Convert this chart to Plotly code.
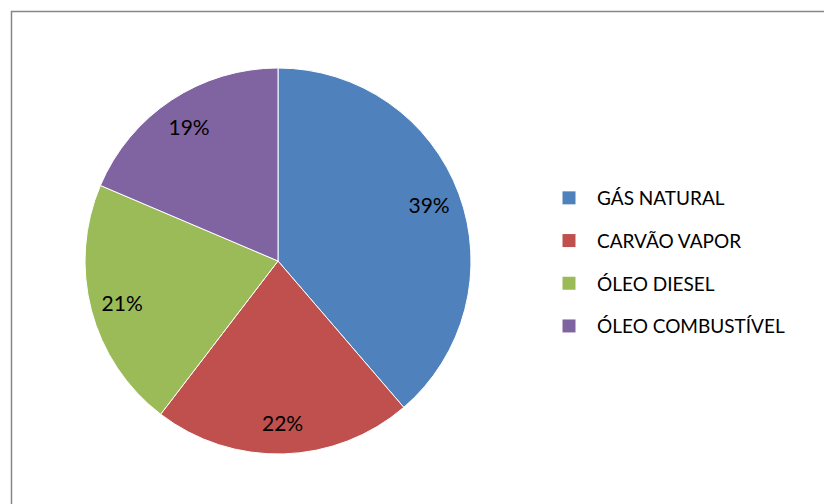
import plotly.graph_objects as go

# participação por combustível (%)
fontes = ['GÁS NATURAL', 'CARVÃO VAPOR', 'ÓLEO DIESEL', 'ÓLEO COMBUSTÍVEL']
valores = [38.7, 21.7, 21.0, 18.6]
cores = ['#4F81BD', '#C0504D', '#9BBB59', '#8064A2']

W, H = 832, 504
OFF = 8  # margem padrão do <body> na página gerada
fonte = 'Lato'

dominio = dict(x=[(85 - OFF) / W, (471 - OFF) / W],
               y=[1 - (454 - OFF) / H, 1 - (68 - OFF) / H])

fig = go.Figure()
# pizza cheia
fig.add_trace(go.Pie(
    labels=fontes, values=valores, sort=False, direction='clockwise', rotation=0,
    marker=dict(colors=cores, line=dict(color='white', width=1)),
    textinfo='none', domain=dominio, showlegend=False, hoverinfo='label+percent',
))
# anel transparente só para colocar os rótulos perto da borda
fig.add_trace(go.Pie(
    labels=fontes, values=valores, sort=False, direction='clockwise', rotation=0,
    hole=0.67,
    marker=dict(colors=['rgba(0,0,0,0)'] * len(fontes), line=dict(width=0)),
    texttemplate='%{percent:.0%}', textposition='inside',
    insidetextorientation='horizontal',
    textfont=dict(family=fonte, size=21, color='black'),
    domain=dominio, showlegend=False, hoverinfo='skip',
))

# legenda com espaçamento maior, uma entrada por fonte
for nome, cor in zip(fontes, cores):
    fig.add_trace(go.Scatter(
        x=[None], y=[None], mode='markers', name=nome, legendgroup=nome,
        marker=dict(symbol='square', size=13, color=cor),
    ))

fig.update_layout(
    width=W, height=H,
    margin=dict(l=0, r=0, t=0, b=0),
    paper_bgcolor='white', plot_bgcolor='white',
    xaxis=dict(visible=False), yaxis=dict(visible=False),
    legend=dict(x=533 / W, y=1 - 171 / H, xanchor='left', yanchor='top',
                font=dict(family=fonte, size=19, color='black'),
                itemwidth=46, tracegroupgap=15, bgcolor='rgba(0,0,0,0)'),
    shapes=[dict(type='rect', xref='paper', yref='paper',
                 x0=3.5 / W, x1=1.2, y0=-0.2, y1=1 - 3.5 / H,
                 line=dict(color='#868686', width=1.5))],
)

fig.write_html('out.html')
